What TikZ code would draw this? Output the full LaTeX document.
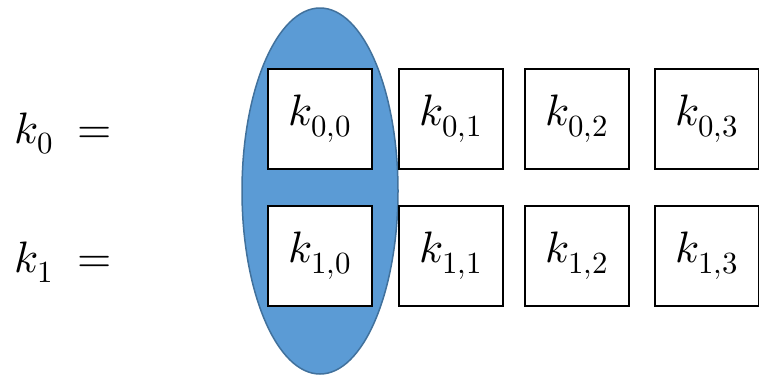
\documentclass[tikz,border=0pt]{standalone}
\usepackage{unicode-math}
\setmathfont{Latin Modern Math}
\usetikzlibrary{shapes.geometric}
\definecolor{ellfill}{HTML}{5B9BD5}
\definecolor{elldraw}{HTML}{41719C}
\begin{document}
\begin{tikzpicture}[x=1pt,y=-1pt,
  cell/.style={draw=black,line width=2pt,fill=white,minimum width=104pt,minimum height=100pt,inner sep=0pt,font=\fontsize{44}{52}\selectfont},
  lbl/.style={anchor=base west,inner sep=0pt,font=\fontsize{44}{52}\selectfont}]
\useasboundingbox (0,0) rectangle (759,376);
\node[ellipse,draw=elldraw,line width=1.5pt,fill=ellfill,minimum width=156pt,minimum height=366pt,inner sep=0pt] (ell) at (320,191) {};
\node[cell] (c00) at (320,119) {$k_{0,0}$};
\node[cell] (c01) at (451,119) {$k_{0,1}$};
\node[cell] (c02) at (576.5,119) {$k_{0,2}$};
\node[cell] (c03) at (707,119) {$k_{0,3}$};
\node[cell] (c10) at (320,256) {$k_{1,0}$};
\node[cell] (c11) at (451,256) {$k_{1,1}$};
\node[cell] (c12) at (576.5,256) {$k_{1,2}$};
\node[cell] (c13) at (707,256) {$k_{1,3}$};
\node[lbl] (l0) at (14,143) {$k_0\;=$};
\node[lbl] (l1) at (14,272) {$k_1\;=$};
\end{tikzpicture}
\end{document}
